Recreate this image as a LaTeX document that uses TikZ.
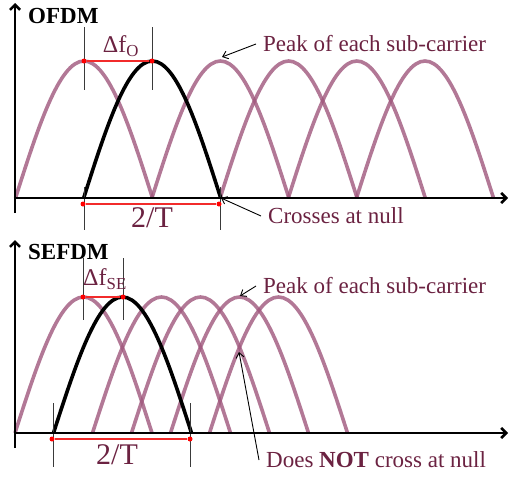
\documentclass[tikz,border=0pt]{standalone}
\usepackage{fontspec}
\setmainfont{Liberation Serif}
\usetikzlibrary{arrows.meta}
\definecolor{mauve}{HTML}{9F567C}
\definecolor{wine}{HTML}{6B2241}
\definecolor{marker}{HTML}{F22B2B}
\definecolor{tickgrey}{HTML}{3A3A3A}

\begin{document}
\begin{tikzpicture}[x=1pt,y=-1pt,
  carrier/.style={draw=mauve,draw opacity=.8,line width=3.6pt},
  chosen/.style={draw=black,line width=3.6pt},
  axisline/.style={line width=2.6pt,-{Straight Barb[length=5pt,width=10pt]}},
  guide/.style={draw=tickgrey,line width=.8pt},
  span/.style={draw=marker,line width=1.4pt},
  dot/.style={fill=red,circle,inner sep=0pt,minimum size=5pt},
  note/.style={font=\fontsize{23}{26}\selectfont,text=wine,inner ysep=1pt,inner xsep=7pt},
  heading/.style={font=\bfseries\fontsize{23}{26}\selectfont,inner sep=1pt},
  pointer/.style={line width=.9pt,-{Straight Barb[length=5pt,width=8pt]}}]
\useasboundingbox (0,0) rectangle (509,479);
% OFDM
\draw[carrier] (15.5,198) sin (84.0,61) cos (152.5,198);
\draw[carrier] (151.9,198) sin (220.4,61) cos (288.9,198);
\draw[carrier] (220.1,198) sin (288.6,61) cos (357.1,198);
\draw[carrier] (288.3,198) sin (356.8,61) cos (425.3,198);
\draw[carrier] (356.5,198) sin (425.0,61) cos (493.5,198);
\draw[chosen] (83.7,198) sin (152.2,61) cos (220.7,198);
\draw[guide] (84,27) -- (84,90);
\draw[guide] (152,27) -- (152,90);
\draw[guide] (84,187) -- (84,230);
\draw[guide] (220,187) -- (220,230);
\node[dot] (dA) at (84,61) {};
\node[dot] (dB) at (152,61) {};
\draw[span] (dA) -- (dB);
\node[dot] (dC) at (83,204) {};
\node[dot] (dD) at (219,204) {};
\draw[span] (dC) -- (dD);
\draw[axisline] (15,198) -- (508,198);
\draw[axisline] (15,213) -- (15,3);
\node[heading,anchor=west] (ofdm) at (27,16) {OFDM};
\node[note,font=\fontsize{24}{26}\selectfont] (dfO) at (121,46) {Δf\textsubscript{O}};
\node[note,font=\fontsize{30}{32}\selectfont] (tO) at (152,218) {2/T};
\node[note,anchor=west] (peakO) at (256,44) {Peak of each sub-carrier};
\node[note,anchor=west] (crossO) at (261,216) {Crosses at null};
\coordinate (pkO) at (222,57);
\coordinate (nullO) at (221,198);
\draw[pointer] (peakO.west) -- (pkO);
\draw[pointer] (crossO.west) -- (nullO);
% SEFDM
\draw[carrier] (15.0,433) sin (83.5,297) cos (152.0,433);
\draw[carrier] (92.5,433) sin (161.5,297) cos (230.5,433);
\draw[carrier] (131.5,433) sin (200.5,297) cos (269.5,433);
\draw[carrier] (170.5,433) sin (239.5,297) cos (308.5,433);
\draw[carrier] (209.5,433) sin (278.5,297) cos (347.5,433);
\draw[chosen] (53.5,433) sin (122.5,297) cos (191.5,433);
\draw[guide] (83,258) -- (83,320);
\draw[guide] (123,258) -- (123,320);
\draw[guide] (53,403) -- (53,467);
\draw[guide] (190,403) -- (190,467);
\node[dot] (dE) at (83,297) {};
\node[dot] (dF) at (123,297) {};
\draw[span] (dE) -- (dF);
\node[dot] (dG) at (52,439) {};
\node[dot] (dH) at (190,439) {};
\draw[span] (dG) -- (dH);
\draw[axisline] (15,433) -- (508,433);
\draw[axisline] (15,448) -- (15,240);
\node[heading,anchor=west] (sefdm) at (27,252) {SEFDM};
\node[note,font=\fontsize{24}{26}\selectfont] (dfSE) at (105,279) {Δf\textsubscript{SE}};
\node[note,font=\fontsize{30}{32}\selectfont] (tSE) at (117,455) {2/T};
\node[note,anchor=west] (peakSE) at (256,286) {Peak of each sub-carrier};
\node[note,anchor=west] (notSE) at (259,460) {Does \textbf{NOT} cross at null};
\coordinate (pkSE) at (240,296);
\coordinate (xSE) at (239,352);
\draw[pointer] (peakSE.west) -- (pkSE);
\draw[pointer] (notSE.west) -- (xSE);
\end{tikzpicture}
\end{document}
